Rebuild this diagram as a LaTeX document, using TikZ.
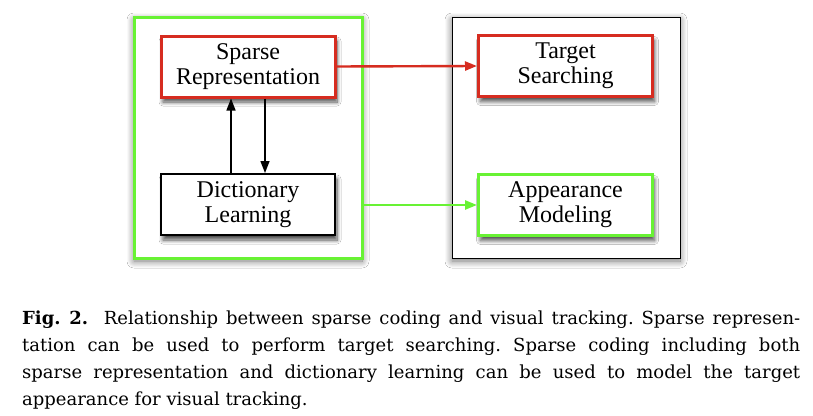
\documentclass[tikz,border=0pt]{standalone}
\usepackage{fontspec}
\setmainfont{Liberation Serif}
\newfontfamily\capfont{DejaVu Serif}
\usetikzlibrary{arrows.meta,shadows.blur}
\definecolor{boxred}{RGB}{214,44,32}
\definecolor{boxgreen}{RGB}{104,242,52}
\begin{document}
\begin{tikzpicture}[x=1pt,y=-1pt,
  inbox/.style={draw, fill=white, minimum width=174pt, minimum height=61pt, inner sep=0pt,
    align=center, font=\fontsize{24}{25}\selectfont,
    blur shadow={shadow xshift=2pt, shadow yshift=-5pt, shadow blur steps=8, shadow opacity=70, shadow blur radius=4pt}},
  redbox/.style={inbox, draw=boxred, line width=3pt},
  greenbox/.style={inbox, draw=boxgreen, line width=3pt},
  blackbox/.style={inbox, draw=black, line width=2pt},
  group/.style={fill=white, minimum width=228pt, minimum height=241pt, inner sep=0pt,
    blur shadow={shadow xshift=0pt, shadow yshift=-3pt, shadow blur steps=10, shadow opacity=55, shadow blur radius=7pt}},
  arr/.style={-{Triangle[length=12pt,width=9pt]}, line width=1.4pt},
]
\useasboundingbox (0,0) rectangle (813,415);
\fill[white] (0,0) rectangle (813,415);

\node[group, draw=boxgreen, line width=3pt] (G) at (248,137.5) {};
\node[group, draw=black, line width=0.9pt] (B) at (566,137.5) {};

\node[redbox] (SR) at (248,66.5) {Sparse\\Representation};
\node[blackbox] (DL) at (248,204.5) {Dictionary\\Learning};
\node[redbox] (TS) at (565.5,66) {Target\\Searching};
\node[greenbox] (AM) at (565.5,205) {Appearance\\Modeling};

\draw[arr] ([xshift=-17pt]DL.north) -- ([xshift=-17pt]SR.south);
\draw[arr] ([xshift=17pt]SR.south) -- ([xshift=17pt]DL.north);
\draw[arr, boxred, line width=2.4pt] (SR.east) -- (TS.west);
\coordinate (gout) at (G.east |- AM.west);
\draw[arr, boxgreen, line width=2.4pt] (gout) -- (AM.west);

\node[anchor=north west, inner sep=0pt, text width=778pt, align=justify,
  font=\capfont\fontsize{18}{27}\selectfont\frenchspacing] (cap) at (22,311)
  {\textbf{Fig. 2.}\ \ Relationship between sparse coding and visual tracking. Sparse represen-\linebreak
  tation can be used to perform target searching. Sparse coding including both\linebreak
  sparse representation and dictionary learning can be used to model the target\linebreak
  appearance for visual tracking.};
\end{tikzpicture}
\end{document}
